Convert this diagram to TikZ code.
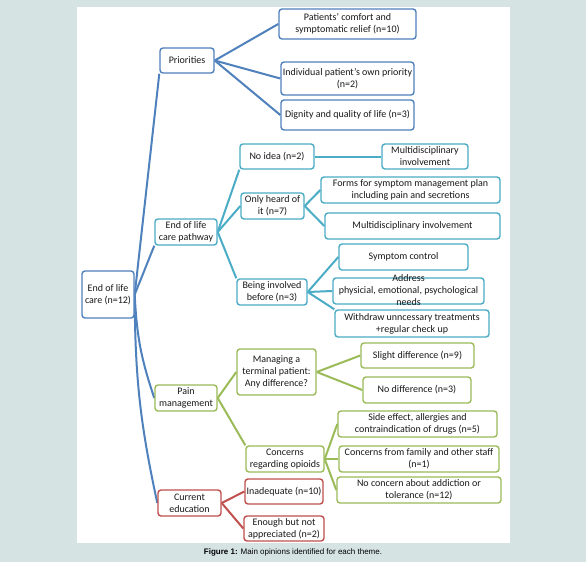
\documentclass[tikz,border=0pt]{standalone}
\usepackage{fontspec}
\usetikzlibrary{backgrounds}
\setmainfont{Carlito}
\newfontfamily\capfont{Liberation Sans}
\definecolor{bgc}{RGB}{213,227,227}
\definecolor{cblue}{HTML}{4F81BD}
\definecolor{cteal}{HTML}{4BACC6}
\definecolor{cgreen}{HTML}{9BBB59}
\definecolor{cred}{HTML}{C0504D}
\tikzset{
  bx/.style={draw, fill=white, rounded corners=3pt, line width=1.4pt, align=center, inner sep=0.5pt,
    font=\fontsize{10}{12}\selectfont, text=black!90},
  bblue/.style={bx, draw=cblue},
  bteal/.style={bx, draw=cteal},
  bgreen/.style={bx, draw=cgreen},
  bred/.style={bx, draw=cred},
  ln/.style={line width=2pt},
  lblue/.style={ln, draw=cblue},
  lteal/.style={ln, draw=cteal},
  lgreen/.style={ln, draw=cgreen},
  lred/.style={ln, draw=cred},
}
\newcommand{\bxat}[6]{\node[#1, minimum width=#4pt, minimum height=#5pt] (#2) at #3 {#6};}
\begin{document}
\begin{tikzpicture}[x=1pt,y=-1pt]
\useasboundingbox (0,0) rectangle (586,562);

% nodes
\bxat{bblue}{root}{(108,294.5)}{52}{47}{End of life\\care (n=12)}
\bxat{bblue}{pri}{(187,60.5)}{54}{25}{Priorities}
\bxat{bblue}{pc}{(347.5,24)}{137}{30}{Patients' comfort and\\symptomatic relief (n=10)}
\bxat{bblue}{ind}{(347.5,78.5)}{133}{33}{Individual patient's own priority\\(n=2)}
\bxat{bblue}{dig}{(347.5,115)}{133}{30}{Dignity and quality of life (n=3)}

\bxat{bteal}{eol}{(186,232)}{62}{26}{End of life\\care pathway}
\bxat{bteal}{noidea}{(277,156.5)}{74}{25}{No idea (n=2)}
\bxat{bteal}{multa}{(425,156.5)}{86}{25}{Multidisciplinary\\involvement}
\bxat{bteal}{only}{(272.5,206)}{63}{26}{Only heard of\\it (n=7)}
\bxat{bteal}{forms}{(410.5,190)}{179}{26}{Forms for symptom management plan\\including pain and secretions}
\bxat{bteal}{multb}{(412.5,226)}{175}{26}{Multidisciplinary involvement}
\bxat{bteal}{being}{(272,292)}{70}{26}{Being involved\\before (n=3)}
\bxat{bteal}{symp}{(403.5,257)}{129}{26}{Symptom control}
\bxat{bteal}{addr}{(408.5,291)}{151}{26}{\smash{\raisebox{-2.5pt}{\begin{tabular}{@{}c@{}}Address\\physicial, emotional, psychological\\needs\end{tabular}}}}
\bxat{bteal}{withd}{(412,323.5)}{154}{27}{Withdraw unncessary treatments\\+regular check up}

\bxat{bgreen}{pain}{(186,398)}{62}{26}{Pain\\management}
\bxat{bgreen}{manage}{(276.5,372)}{79}{46}{Managing a\\terminal patient:\\Any difference?}
\bxat{bgreen}{slight}{(417.5,355.5)}{113}{25}{Slight difference (n=9)}
\bxat{bgreen}{nodiff}{(417,390)}{108}{26}{No difference (n=3)}
\bxat{bgreen}{conc}{(285,459)}{78}{26}{Concerns\\regarding opioids}
\bxat{bgreen}{side}{(417.5,424)}{159}{26}{Side effect, allergies and\\contraindication of drugs (n=5)}
\bxat{bgreen}{fam}{(419,459)}{160}{26}{Concerns from family and other staff\\(n=1)}
\bxat{bgreen}{nocon}{(419,490)}{164}{26}{No concern about addiction or\\tolerance (n=12)}

\bxat{bred}{cur}{(189.5,503)}{63}{26}{Current\\education}
\bxat{bred}{inad}{(284,491.5)}{78}{25}{Inadequate (n=10)}
\bxat{bred}{enough}{(284,528.5)}{80}{25}{Enough but not\\appreciated (n=2)}

\node[font=\capfont\fontsize{8}{9}\selectfont] (cap) at (293,552.5) {\textbf{Figure 1:} Main opinions identified for each theme.};

\begin{scope}[on background layer]
\fill[bgc] (0,0) rectangle (586,562);
\fill[white] (77,7) rectangle (510,543);

\draw[lblue] (root.east) -- (pri.south west);
\draw[lblue] (root.east) -- (eol.south west);
\draw[lblue] (root.east) to[bend right=8] (pain.west);
\draw[lblue] (root.east) to[bend right=6] (cur.west);
\draw[lblue] (pri.east) -- (pc.west);
\draw[lblue] (pri.east) -- (ind.west);
\draw[lblue] (pri.east) -- (dig.west);

\draw[lteal] (eol.east) -- (noidea.south west);
\draw[lteal] (eol.east) -- (only.west);
\draw[lteal] (eol.east) -- (being.north west);
\draw[lteal] (noidea.east) -- (multa.west);
\draw[lteal] (only.east) -- (forms.west);
\draw[lteal] (only.east) -- (multb.west);
\draw[lteal] (being.east) -- (symp.west);
\draw[lteal] (being.east) -- (addr.west);
\draw[lteal] (being.east) -- (withd.north west);

\draw[lgreen] (pain.east) -- (manage.west);
\draw[lgreen] (pain.east) -- (conc.north west);
\draw[lgreen] (manage.east) -- (slight.west);
\draw[lgreen] (manage.east) -- (nodiff.west);
\draw[lgreen] (conc.east) -- (side.west);
\draw[lgreen] (conc.east) -- (fam.west);
\draw[lgreen] (conc.east) -- (nocon.west);

\draw[lred] (cur.east) -- (inad.west);
\draw[lred] (cur.east) -- (enough.west);
\end{scope}
\end{tikzpicture}
\end{document}
